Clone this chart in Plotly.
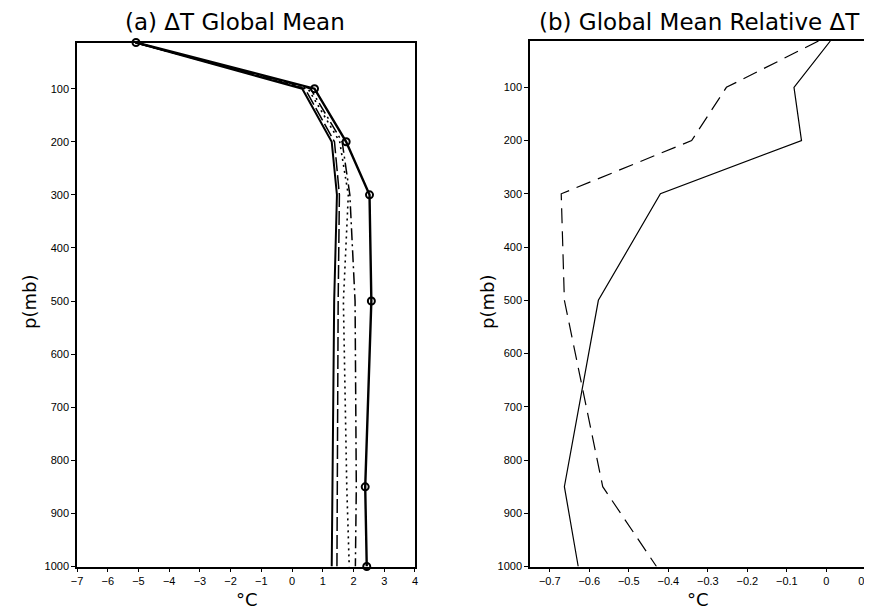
import plotly.graph_objects as go

# Pressure levels (mb)
p_levels = [13, 100, 200, 300, 500, 850, 1000]

# Panel (a): Delta T global mean (°C)
dt_solid    = [-5.10, 0.33, 1.29, 1.46, 1.37, 1.33, 1.29]
dt_longdash = [-5.10, 0.42, 1.38, 1.54, 1.50, 1.47, 1.46]
dt_dotted   = [-5.10, 0.52, 1.55, 1.83, 1.67, 1.78, 1.86]
dt_dashdot  = [-5.10, 0.60, 1.63, 1.88, 2.05, 2.09, 2.06]
dt_circles  = [-5.08, 0.73, 1.76, 2.52, 2.58, 2.38, 2.43]

# Panel (b): relative Delta T (°C)
rel_solid  = [0.01, -0.082, -0.063, -0.42, -0.577, -0.663, -0.628]
rel_dashed = [-0.02, -0.253, -0.341, -0.671, -0.663, -0.566, -0.430]

x_ticks_a = [-7, -6, -5, -4, -3, -2, -1, 0, 1, 2, 3, 4]
x_ticks_b = [-0.7, -0.6, -0.5, -0.4, -0.3, -0.2, -0.1, 0, 0.1]
x_ticktext_b = ["\u22120.7", "\u22120.6", "\u22120.5", "\u22120.4", "\u22120.3",
                "\u22120.2", "\u22120.1", "0", "0.1"]
y_ticks = [100, 200, 300, 400, 500, 600, 700, 800, 900, 1000]

# page body has an 8px default margin; size the figure to fit the window
OFF = 8
W, H = 872 - OFF, 611 - OFF

def px(x):
    return (x - OFF) / W

def py(y):
    return 1 - (y - OFF) / H

fig = go.Figure()

def add(x, style, width, xa, ya, markers=False):
    fig.add_trace(go.Scatter(
        x=x, y=p_levels, xaxis=xa, yaxis=ya,
        mode="lines+markers" if markers else "lines",
        line=dict(color="black", width=width, dash=style),
        marker=dict(symbol="circle-open", size=7, color="black",
                    line=dict(width=2, color="black")) if markers else None,
        showlegend=False, hoverinfo="skip", cliponaxis=False))

add(dt_solid, "solid", 2.0, "x", "y")
add(dt_longdash, "14px,4px", 1.5, "x", "y")
add(dt_dotted, "2px,4px", 1.6, "x", "y")
add(dt_dashdot, "12px,4px,2px,4px", 1.5, "x", "y")
add(dt_circles, "solid", 2.4, "x", "y", markers=True)

add(rel_solid, "solid", 1.2, "x2", "y2")
add(rel_dashed, "15px,8px", 1.2, "x2", "y2")

font = dict(family="Liberation Sans, Arial, sans-serif", size=11, color="black")

ax_common = dict(showgrid=False, zeroline=False, showline=True, linecolor="black",
                 linewidth=1.5, mirror=True, ticks="outside", ticklen=4,
                 tickcolor="black", tickfont=font, automargin=False,
                 ticklabeloverflow="allow")

fig.update_layout(
    width=W, height=H,
    margin=dict(l=0, r=0, t=0, b=0, pad=0),
    paper_bgcolor="white", plot_bgcolor="white",
    xaxis=dict(domain=[px(77), px(415)], range=[-7, 4.0005], tickvals=x_ticks_a,
               ticktext=[str(v).replace("-", "\u2212") for v in x_ticks_a],
               anchor="y", **ax_common),
    yaxis=dict(domain=[py(566.5), py(42.5)], range=[1000, 13],
               tickvals=y_ticks, anchor="x", **ax_common),
    xaxis2=dict(domain=[px(530), px(866)], range=[-0.75, 0.1002], tickvals=x_ticks_b,
                ticktext=x_ticktext_b, anchor="y2", **ax_common),
    yaxis2=dict(domain=[py(566.5), py(41)], range=[1000, 13],
                tickvals=y_ticks, anchor="x2", **ax_common),
)

tfont = dict(family="DejaVu Sans, sans-serif", size=23, color="black")
lfont = dict(family="DejaVu Sans, sans-serif", size=18, color="black")

ann = [
    dict(x=235, y=22, text="(a) \u0394T Global Mean", font=tfont),
    dict(x=699, y=22, text="(b) Global Mean Relative \u0394T", font=tfont),
    dict(x=247, y=599, text="\u00b0C", font=lfont),
    dict(x=698, y=599, text="\u00b0C", font=lfont),
    dict(x=29, y=302, text="p(mb)", font=lfont, textangle=-90),
    dict(x=487, y=302, text="p(mb)", font=lfont, textangle=-90),
]
for a in ann:
    fig.add_annotation(xref="paper", yref="paper", x=px(a["x"]), y=py(a["y"]),
                       text=a["text"], font=a["font"], showarrow=False,
                       textangle=a.get("textangle", 0),
                       xanchor="center", yanchor="middle")

fig.write_html("out.html")
